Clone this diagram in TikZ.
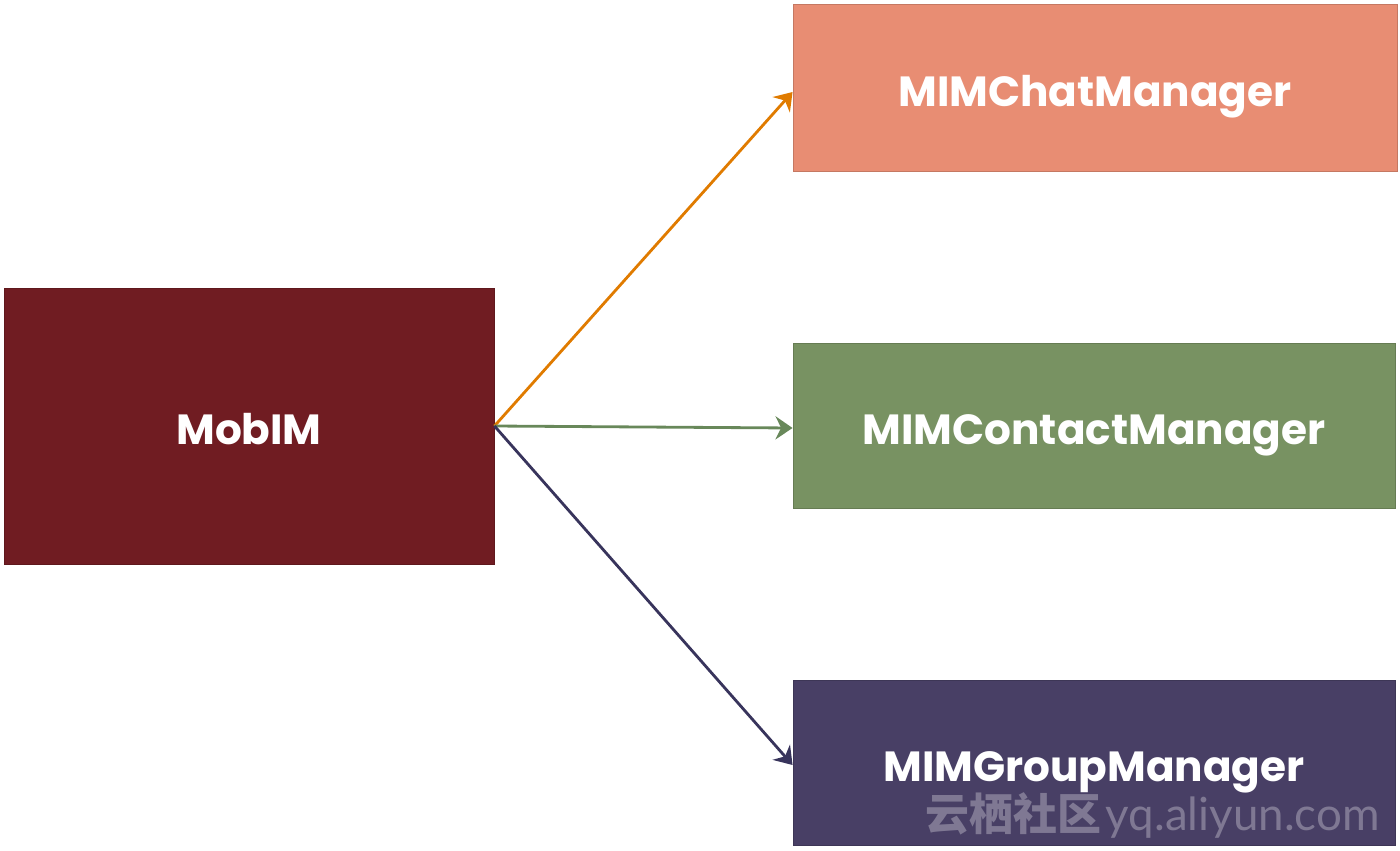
\documentclass[tikz,border=0pt]{standalone}
\usepackage{fontspec}
\setmainfont{Poppins}
\newfontfamily\cjkfont{Noto Sans CJK SC}
\newfontfamily\markfont{Lato}
\usetikzlibrary{arrows.meta,positioning}
\definecolor{MimRed}{RGB}{112,28,34}
\definecolor{MimSalmon}{RGB}{232,141,115}
\definecolor{MimGreen}{RGB}{120,146,98}
\definecolor{MimPurple}{RGB}{72,63,101}
\definecolor{MimOrange}{RGB}{224,123,0}
\definecolor{MimLeaf}{RGB}{104,136,90}
\definecolor{MimNavy}{RGB}{56,52,92}
\tikzset{
  mim/box/.style={
    draw=#1!85!black,
    line width=0.5pt,
    fill=#1,
    align=center,
    text=white,
    inner sep=0pt,
    text height=0.75cm,
    text depth=0cm,
    font=\fontsize{24}{28}\selectfont\bfseries
  },
  mim/arrow/.style={-{Stealth[length=3.4mm,width=4.6mm]}, line width=1.6pt, draw=#1},
  mim/mark/.style={text=white, opacity=0.3, anchor=west, inner sep=0pt}
}
\begin{document}
\begin{tikzpicture}[x=1cm,y=1cm]
  \useasboundingbox (0,0) rectangle (28,-17);
  \node[mim/box=MimRed,minimum width=9.8cm,minimum height=5.52cm] (mobim) at (4.98,-8.52) {MobIM};
  \node[mim/box=MimSalmon,minimum width=12.08cm,minimum height=3.34cm] (chat) at (21.9,-1.75) {MIMChatManager};
  \node[mim/box=MimGreen,minimum width=12.04cm,minimum height=3.3cm] (contact) at (21.88,-8.51) {MIMContactManager};
  \node[mim/box=MimPurple,minimum width=12.04cm,minimum height=3.3cm] (group) at (21.88,-15.25) {MIMGroupManager};
  \draw[mim/arrow=MimOrange] (mobim.east) -- ([yshift=-0.09cm]chat.west);
  \draw[mim/arrow=MimLeaf] (mobim.east) -- ([yshift=-0.05cm]contact.west);
  \draw[mim/arrow=MimNavy] (mobim.east) -- ([yshift=-0.05cm]group.west);
  % watermark
  \node[mim/mark] (wm) at (18.5,-16.3) {{\cjkfont\bfseries\fontsize{25}{28}\selectfont 云栖社区} {\markfont\fontsize{26}{28}\selectfont yq.aliyun.com}};
\end{tikzpicture}
\end{document}
